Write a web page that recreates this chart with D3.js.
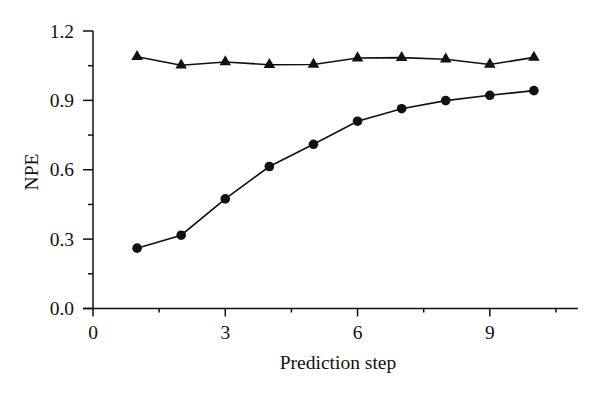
<!DOCTYPE html>
<html>
<head>
<meta charset="utf-8">
<script src="https://cdn.jsdelivr.net/npm/d3@7"></script>
<style>
  body { margin: 0; background: #fff; }
  svg text { font-family: 'Liberation Serif', 'Times New Roman', serif; fill: #111; }
</style>
</head>
<body>
<div id="chart"></div>
<script>
// data
const steps = [1, 2, 3, 4, 5, 6, 7, 8, 9, 10];
const circleSeries = [0.261, 0.317, 0.474, 0.614, 0.710, 0.810, 0.864, 0.899, 0.922, 0.942];
const triangleSeries = [1.089, 1.052, 1.066, 1.054, 1.055, 1.083, 1.085, 1.078, 1.055, 1.086];
const xTicks = [0, 3, 6, 9];
const xMinorTicks = [1.5, 4.5, 7.5, 10.5];
const yTicks = [0, 0.3, 0.6, 0.9, 1.2];
const yMinorTicks = [0.15, 0.45, 0.75, 1.05];

const W = 600;
const H = 396;

const x = d3.scaleLinear().domain([0, 11]).range([93, 578]);
const y = d3.scaleLinear().domain([0, 1.2]).range([308.5, 31]);

const svg = d3.select('#chart').append('svg')
  .attr('width', W)
  .attr('height', H);

const ink = '#111';
const fontSize = 19.5;

// y axis
svg.append('line')
  .attr('x1', x(0)).attr('x2', x(0))
  .attr('y1', y(0)).attr('y2', y(1.2))
  .attr('stroke', ink).attr('stroke-width', 1.5);

svg.selectAll('.ytick')
  .data(yTicks)
  .enter()
  .append('line')
  .attr('x1', x(0) - 10).attr('x2', x(0))
  .attr('y1', (d) => y(d)).attr('y2', (d) => y(d))
  .attr('stroke', ink).attr('stroke-width', 1.5);

svg.selectAll('.yminor')
  .data(yMinorTicks)
  .enter()
  .append('line')
  .attr('x1', x(0) - 5).attr('x2', x(0))
  .attr('y1', (d) => y(d)).attr('y2', (d) => y(d))
  .attr('stroke', ink).attr('stroke-width', 1.5);

svg.selectAll('.ylabel')
  .data(yTicks)
  .enter()
  .append('text')
  .attr('x', 74)
  .attr('y', (d) => y(d) + 6.5)
  .attr('text-anchor', 'end')
  .attr('font-size', fontSize)
  .text((d) => d.toFixed(1));

// x axis
svg.append('line')
  .attr('x1', x(0) - 10).attr('x2', x(11))
  .attr('y1', y(0)).attr('y2', y(0))
  .attr('stroke', ink).attr('stroke-width', 1.5);

svg.selectAll('.xtick')
  .data(xTicks)
  .enter()
  .append('line')
  .attr('x1', (d) => x(d)).attr('x2', (d) => x(d))
  .attr('y1', y(0)).attr('y2', y(0) + 8)
  .attr('stroke', ink).attr('stroke-width', 1.5);

svg.selectAll('.xminor')
  .data(xMinorTicks)
  .enter()
  .append('line')
  .attr('x1', (d) => x(d)).attr('x2', (d) => x(d))
  .attr('y1', y(0)).attr('y2', y(0) + 4)
  .attr('stroke', ink).attr('stroke-width', 1.5);

svg.selectAll('.xlabel')
  .data(xTicks)
  .enter()
  .append('text')
  .attr('x', (d) => x(d))
  .attr('y', 339)
  .attr('text-anchor', 'middle')
  .attr('font-size', fontSize)
  .text((d) => d);

// axis titles
svg.append('text')
  .attr('x', 338)
  .attr('y', 369)
  .attr('text-anchor', 'middle')
  .attr('font-size', fontSize)
  .text('Prediction step');

svg.append('text')
  .attr('transform', `translate(38,172) rotate(-90)`)
  .attr('text-anchor', 'middle')
  .attr('font-size', fontSize)
  .text('NPE');

// series
const line = d3.line()
  .x((d) => x(d[0]))
  .y((d) => y(d[1]));

const circlePts = steps.map((s, i) => [s, circleSeries[i]]);
const trianglePts = steps.map((s, i) => [s, triangleSeries[i]]);

svg.append('path')
  .datum(trianglePts)
  .attr('d', line)
  .attr('fill', 'none')
  .attr('stroke', ink)
  .attr('stroke-width', 1.6);

svg.append('path')
  .datum(circlePts)
  .attr('d', line)
  .attr('fill', 'none')
  .attr('stroke', ink)
  .attr('stroke-width', 1.6);

svg.selectAll('.dot')
  .data(circlePts)
  .enter()
  .append('circle')
  .attr('cx', (d) => x(d[0]))
  .attr('cy', (d) => y(d[1]))
  .attr('r', 4.8)
  .attr('fill', ink);

const tri = d3.symbol().type(d3.symbolTriangle).size(58);
svg.selectAll('.tri')
  .data(trianglePts)
  .enter()
  .append('path')
  .attr('d', tri)
  .attr('transform', (d) => `translate(${x(d[0])},${y(d[1])})`)
  .attr('fill', ink);
</script>
</body>
</html>
